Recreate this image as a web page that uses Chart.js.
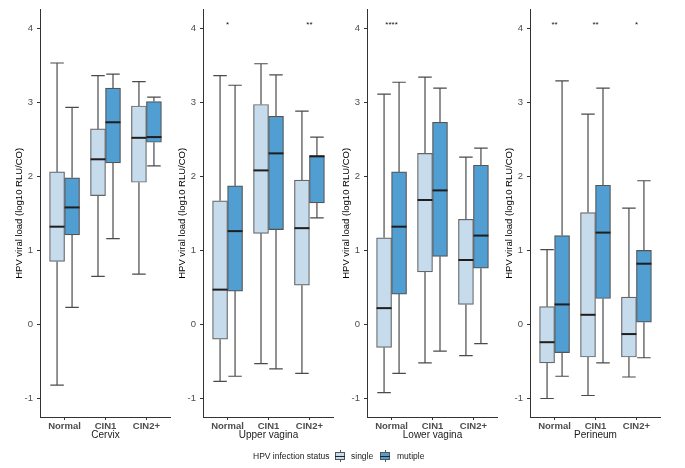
<!DOCTYPE html>
<html>
<head>
<meta charset="utf-8">
<script src="https://cdn.jsdelivr.net/npm/chart.js@4.4.0/dist/chart.umd.min.js"></script>
<style>
    body { margin: 0; background: #fff; font-family: "Liberation Sans", Arial, sans-serif; }
    #wrap { position: relative; width: 685px; height: 468px; overflow: hidden; }
    .panel { position: absolute; top: 0; }
    .leg { position: absolute; font-size: 8.5px; color: #1a1a1a; top: 450px; line-height: 12px; white-space: nowrap; }
    .icon { position: absolute; top: 450px; width: 12px; height: 12px; }
    .icon .stub { position: absolute; left: 5.5px; width: 1px; height: 2px; background: #555; }
    .icon .box { position: absolute; left: 1px; top: 2px; width: 8px; height: 6px; border: 1px solid #555; }
    .icon .med { position: absolute; left: 1px; top: 5.5px; width: 10px; height: 1px; background: #222; }
</style>
</head>
<body>
<div id="wrap">
    <canvas id="c0" class="panel" width="171" height="441"></canvas>
    <canvas id="c1" class="panel" width="171" height="441"></canvas>
    <canvas id="c2" class="panel" width="171" height="441"></canvas>
    <canvas id="c3" class="panel" width="171" height="441"></canvas>

    <div class="leg" style="left:253px">HPV infection status</div>
    <div class="icon" style="left:334px">
        <div class="stub" style="top:0"></div>
        <div class="box" style="background:#c6dcec"></div>
        <div class="med"></div>
        <div class="stub" style="top:10px"></div>
    </div>
    <div class="leg" style="left:351px">single</div>
    <div class="icon" style="left:379px">
        <div class="stub" style="top:0"></div>
        <div class="box" style="background:#519ed2"></div>
        <div class="med"></div>
        <div class="stub" style="top:10px"></div>
    </div>
    <div class="leg" style="left:397px">mutiple</div>
</div>

<script>
// Dữ liệu: mỗi nhóm [lower, q1, median, q3, upper]
const categories = ['Normal', 'CIN1', 'CIN2+'];
const regions = ['Cervix', 'Upper vagina', 'Lower vagina', 'Perineum'];

const cervixSingle   = [[-0.82, 0.85, 1.32, 2.06, 3.53], [0.65, 1.74, 2.23, 2.64, 3.36], [0.68, 1.92, 2.52, 2.95, 3.28]];
const cervixMultiple = [[0.23, 1.21, 1.58, 1.98, 2.93], [1.16, 2.18, 2.73, 3.19, 3.38], [2.14, 2.46, 2.53, 3.01, 3.07]];

const upperSingle   = [[-0.77, -0.20, 0.47, 1.67, 3.36], [-0.53, 1.23, 2.08, 2.97, 3.52], [-0.66, 0.53, 1.30, 1.95, 2.88]];
const upperMultiple = [[-0.70, 0.45, 1.26, 1.87, 3.23], [-0.60, 1.28, 2.31, 2.81, 3.37], [1.44, 1.64, 2.27, 2.28, 2.53]];

const lowerSingle   = [[-0.92, -0.31, 0.22, 1.17, 3.11], [-0.52, 0.71, 1.68, 2.31, 3.34], [-0.42, 0.27, 0.87, 1.42, 2.26]];
const lowerMultiple = [[-0.66, 0.41, 1.32, 2.06, 3.27], [-0.36, 0.92, 1.81, 2.73, 3.19], [-0.26, 0.76, 1.20, 2.15, 2.38]];

const perineumSingle   = [[-1.00, -0.52, -0.24, 0.24, 1.01], [-0.96, -0.44, 0.13, 1.51, 2.84], [-0.71, -0.44, -0.13, 0.37, 1.57]];
const perineumMultiple = [[-0.70, -0.38, 0.27, 1.20, 3.29], [-0.52, 0.35, 1.24, 1.88, 3.19], [-0.45, 0.03, 0.82, 1.00, 1.94]];

const singleSets = [cervixSingle, upperSingle, lowerSingle, perineumSingle];
const multipleSets = [cervixMultiple, upperMultiple, lowerMultiple, perineumMultiple];

// Ký hiệu ý nghĩa thống kê trên mỗi nhóm
const stars = [['', '', ''], ['*', '', '**'], ['****', '', ''], ['**', '**', '*']];
const starLevel = 4.07;

const yTicks = [-1, 0, 1, 2, 3, 4];
const axisLeft = [40, 203, 367, 530]; // vị trí trục y của từng panel

const FONT = '"Liberation Sans", Arial, sans-serif';

// Vẽ râu (whisker) + trung vị cho boxplot
const boxplotPlugin = {
    id: 'boxplot',
    beforeDatasetsDraw(chart) {
        const { ctx, scales: { y } } = chart;
        ctx.save();
        ctx.strokeStyle = '#4a4a4a';
        ctx.lineWidth = 1.2;
        chart.data.datasets.forEach((ds, di) => {
            const meta = chart.getDatasetMeta(di);
            meta.data.forEach((bar, i) => {
                const [lo, q1, , q3, hi] = ds.stats[i];
                const { x, width } = bar.getProps(['x', 'width'], true);
                const cap = width * 0.45;
                ctx.beginPath();
                ctx.moveTo(x, y.getPixelForValue(hi));
                ctx.lineTo(x, y.getPixelForValue(q3));
                ctx.moveTo(x, y.getPixelForValue(q1));
                ctx.lineTo(x, y.getPixelForValue(lo));
                ctx.moveTo(x - cap, y.getPixelForValue(hi));
                ctx.lineTo(x + cap, y.getPixelForValue(hi));
                ctx.moveTo(x - cap, y.getPixelForValue(lo));
                ctx.lineTo(x + cap, y.getPixelForValue(lo));
                ctx.stroke();
            });
        });
        ctx.restore();
    },
    afterDatasetsDraw(chart, args, opts) {
        const { ctx, scales: { x: xs, y } } = chart;
        ctx.save();
        ctx.strokeStyle = '#1e1e1e';
        ctx.lineWidth = 2;
        chart.data.datasets.forEach((ds, di) => {
            const meta = chart.getDatasetMeta(di);
            meta.data.forEach((bar, i) => {
                const med = ds.stats[i][2];
                const { x, width } = bar.getProps(['x', 'width'], true);
                const py = y.getPixelForValue(med);
                ctx.beginPath();
                ctx.moveTo(x - width / 2, py);
                ctx.lineTo(x + width / 2, py);
                ctx.stroke();
            });
        });
        // dấu sao
        ctx.fillStyle = '#111';
        ctx.font = '8px ' + FONT;
        ctx.textAlign = 'center';
        ctx.textBaseline = 'alphabetic';
        (opts.stars || []).forEach((s, i) => {
            if (!s) return;
            ctx.fillText(s, xs.getPixelForValue(i + 1), y.getPixelForValue(starLevel) + 4);
        });
        ctx.restore();
    }
};

function toBars(stats) {
    return stats.map((s, i) => ({ x: i + 1, y: [s[1], s[3]] }));
}

regions.forEach((region, p) => {
    const canvas = document.getElementById('c' + p);
    canvas.style.left = (axisLeft[p] - 40) + 'px';

    new Chart(canvas, {
        type: 'bar',
        data: {
            datasets: [
                {
                    label: 'single',
                    data: toBars(singleSets[p]),
                    stats: singleSets[p],
                    backgroundColor: '#c6dcec',
                    borderColor: '#666666',
                    borderWidth: 1.2,
                    borderSkipped: false,
                    barThickness: 15
                },
                {
                    label: 'mutiple',
                    data: toBars(multipleSets[p]),
                    stats: multipleSets[p],
                    backgroundColor: '#519ed2',
                    borderColor: '#555555',
                    borderWidth: 1.2,
                    borderSkipped: false,
                    barThickness: 15
                }
            ]
        },
        options: {
            responsive: false,
            animation: false,
            events: [],
            layout: { padding: { left: 14, top: 8, right: 0, bottom: 0 } },
            plugins: {
                legend: { display: false },
                tooltip: { enabled: false },
                boxplot: { stars: stars[p] }
            },
            scales: {
                x: {
                    type: 'linear',
                    offset: false,
                    min: 0.4,
                    max: 3.6,
                    afterBuildTicks: s => { s.ticks = categories.map((c, i) => ({ value: i + 1 })); },
                    afterFit: s => { s.height = 24; },
                    ticks: {
                        callback: v => categories[v - 1],
                        color: '#4d4d4d',
                        font: { family: FONT, size: 9.5, weight: 'bold' },
                        padding: 1,
                        maxRotation: 0,
                        autoSkip: false
                    },
                    grid: { drawOnChartArea: false, offset: false, tickLength: 3, color: '#333', lineWidth: 1 },
                    border: { color: '#333', width: 1 },
                    title: {
                        display: true,
                        text: region,
                        color: '#1a1a1a',
                        font: { family: FONT, size: 10 },
                        padding: 0
                    }
                },
                y: {
                    min: -1.25,
                    max: 4.25,
                    afterBuildTicks: s => { s.ticks = yTicks.map(v => ({ value: v })); },
                    afterFit: s => { s.width = 26; },
                    ticks: {
                        color: '#4d4d4d',
                        font: { family: FONT, size: 9.5 },
                        padding: 4
                    },
                    grid: { drawOnChartArea: false, tickLength: 3, color: '#333', lineWidth: 1 },
                    border: { color: '#333', width: 1 },
                    title: {
                        display: true,
                        text: 'HPV viral load (log10 RLU/CO)',
                        color: '#000',
                        font: { family: FONT, size: 9.5 },
                        padding: 0
                    }
                }
            }
        },
        plugins: [boxplotPlugin]
    });
});
</script>
</body>
</html>
